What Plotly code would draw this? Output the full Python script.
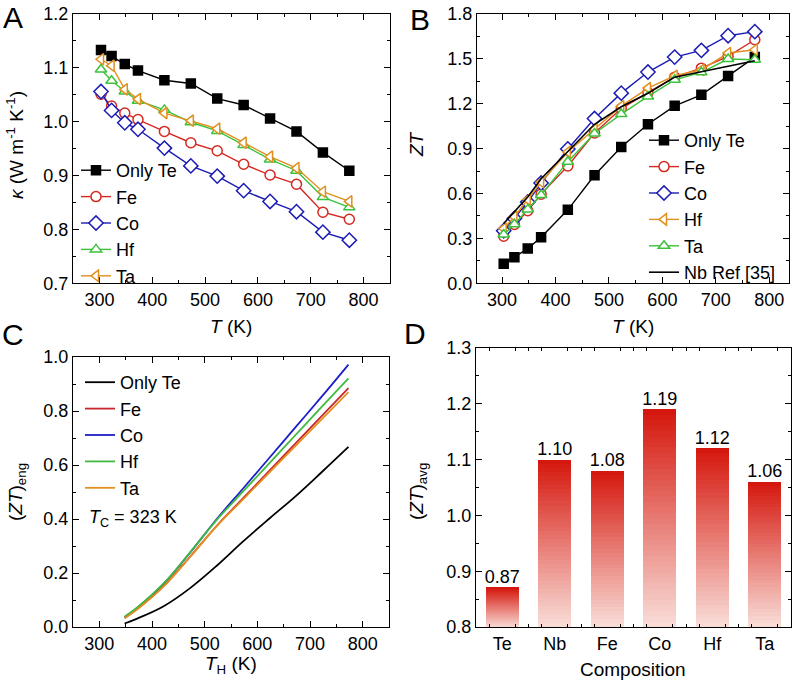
import plotly.graph_objects as go

# ---------------- data ----------------
T_K = [303, 323, 348, 373, 423, 473, 523, 573, 623, 673, 723, 773]

kappa_onlyte = [1.133, 1.122, 1.107, 1.095, 1.077, 1.071, 1.043, 1.031, 1.006, 0.982, 0.943, 0.909]
kappa_fe = [1.051, 1.029, 1.016, 1.004, 0.982, 0.961, 0.946, 0.921, 0.901, 0.884, 0.832, 0.819]
kappa_co = [1.056, 1.021, 0.998, 0.986, 0.951, 0.918, 0.899, 0.872, 0.852, 0.833, 0.795, 0.780]
kappa_hf = [1.097, 1.076, 1.056, 1.039, 1.022, 0.999, 0.983, 0.957, 0.930, 0.909, 0.860, 0.841]
kappa_ta = [1.116, 1.104, 1.060, 1.042, 1.016, 1.002, 0.987, 0.961, 0.935, 0.914, 0.870, 0.852]

zt_onlyte = [0.130, 0.174, 0.232, 0.308, 0.491, 0.722, 0.911, 1.063, 1.186, 1.260, 1.385, 1.512]
zt_fe = [0.315, 0.393, 0.485, 0.596, 0.784, 1.005, 1.168, 1.275, 1.378, 1.438, 1.517, 1.628]
zt_co = [0.351, 0.433, 0.543, 0.670, 0.898, 1.101, 1.271, 1.412, 1.512, 1.557, 1.655, 1.682]
zt_orange = [0.366, 0.445, 0.560, 0.677, 0.878, 1.030, 1.184, 1.305, 1.387, 1.427, 1.539, 1.561]
zt_green = [0.326, 0.395, 0.494, 0.590, 0.813, 1.001, 1.131, 1.249, 1.360, 1.410, 1.499, 1.494]
zt_nb_ref = [0.400, 0.480, 0.577, 0.699, 0.882, 1.063, 1.180, 1.270, 1.378, 1.416, 1.450, 1.488]

TH_K = [348, 373, 423, 473, 523, 573, 623, 673, 723, 773]
zteng_onlyte = [0.013, 0.032, 0.078, 0.145, 0.227, 0.317, 0.402, 0.485, 0.575, 0.667]
zteng_fe = [0.033, 0.068, 0.153, 0.262, 0.375, 0.477, 0.579, 0.681, 0.783, 0.885]
zteng_co = [0.036, 0.072, 0.162, 0.277, 0.400, 0.513, 0.627, 0.741, 0.855, 0.972]
zteng_hf = [0.038, 0.074, 0.163, 0.278, 0.397, 0.502, 0.607, 0.712, 0.817, 0.921]
zteng_ta = [0.032, 0.067, 0.152, 0.261, 0.374, 0.473, 0.573, 0.672, 0.771, 0.870]

compositions = ["Te", "Nb", "Fe", "Co", "Hf", "Ta"]
zt_avg = [0.87, 1.10, 1.08, 1.19, 1.12, 1.06]

# ---------------- styling ----------------
FONT = "Arial, Liberation Sans, sans-serif"
BLACK = "#000000"
RED = "#d42a22"
BLUE = "#1c1cb4"
GREEN = "#3cc23c"
ORANGE = "#e0901e"
C_RED = "#c8282d"
C_BLUE = "#1e1ec8"
C_GREEN = "#40bb40"
C_ORANGE = "#e39020"

W, H = 796, 685


def px_x(a, b):
    return [a / W, b / W]


def px_y(top, bottom):
    return [1 - bottom / H, 1 - top / H]


fig = go.Figure()


def line_marker(x, y, name, color, symbol, xa, ya, legend, filled=False, size=9):
    fig.add_trace(go.Scatter(
        x=x, y=y, name=name, mode="lines+markers", xaxis=xa, yaxis=ya, legend=legend,
        line=dict(color=color, width=1.4),
        marker=dict(symbol=symbol, size=size, color=color if filled else "white",
                    line=dict(color=color, width=1.5)),
    ))


# Panel A
line_marker(T_K, kappa_onlyte, "Only Te", BLACK, "square", "x", "y", "legend", filled=True, size=9)
line_marker(T_K, kappa_fe, "Fe", RED, "circle", "x", "y", "legend", size=10)
line_marker(T_K, kappa_co, "Co", BLUE, "diamond", "x", "y", "legend", size=11)
line_marker(T_K, kappa_hf, "Hf", GREEN, "triangle-up", "x", "y", "legend", size=10)
line_marker(T_K, kappa_ta, "Ta", ORANGE, "triangle-left", "x", "y", "legend", size=10)

# Panel B
line_marker(T_K, zt_onlyte, "Only Te", BLACK, "square", "x2", "y2", "legend2", filled=True, size=9)
line_marker(T_K, zt_fe, "Fe", RED, "circle", "x2", "y2", "legend2", size=10)
line_marker(T_K, zt_co, "Co", BLUE, "diamond", "x2", "y2", "legend2", size=11)
line_marker(T_K, zt_orange, "Hf", ORANGE, "triangle-left", "x2", "y2", "legend2", size=10)
line_marker(T_K, zt_green, "Ta", GREEN, "triangle-up", "x2", "y2", "legend2", size=10)
fig.add_trace(go.Scatter(x=T_K, y=zt_nb_ref, name="Nb Ref [35]", mode="lines",
                         xaxis="x2", yaxis="y2", legend="legend2",
                         line=dict(color=BLACK, width=1.6)))

# Panel C
for ys, nm, col in [(zteng_onlyte, "Only Te", BLACK), (zteng_fe, "Fe", C_RED),
                    (zteng_co, "Co", C_BLUE), (zteng_hf, "Hf", C_GREEN), (zteng_ta, "Ta", C_ORANGE)]:
    fig.add_trace(go.Scatter(x=TH_K, y=ys, name=nm, mode="lines", xaxis="x3", yaxis="y3",
                             legend="legend3", line=dict(color=col, width=1.8, shape="spline")))

# Panel D : gradient bars built from stacked slices
N = 40
top_rgb = (213, 22, 12)
bot_rgb = (249, 222, 217)
xi = list(range(len(compositions)))
for k in range(N):
    t = (k + 0.5) / N
    rgb = tuple(round(b + (tp - b) * t) for b, tp in zip(bot_rgb, top_rgb))
    fig.add_trace(go.Bar(
        x=xi, y=[(v - 0.8) / N for v in zt_avg], base=[0.8 + (v - 0.8) * k / N for v in zt_avg],
        width=0.63, xaxis="x4", yaxis="y4", showlegend=False,
        marker=dict(color="rgb(%d,%d,%d)" % rgb, line=dict(width=0)), hoverinfo="skip",
    ))
fig.add_trace(go.Scatter(x=xi, y=zt_avg, mode="text", text=["%.2f" % v for v in zt_avg],
                         textposition="top center", textfont=dict(size=18, color="black", family=FONT),
                         xaxis="x4", yaxis="y4", showlegend=False))

# ---------------- axes ----------------
def axis(domain, rng, dtick, minor_dtick, fmt=None, **kw):
    d = dict(domain=domain, range=rng, tickmode="linear", dtick=dtick, tick0=0, ticks="inside",
             ticklen=6, tickwidth=1.2, tickcolor="black", showline=True, linecolor="black",
             linewidth=1.3, mirror="ticks", showgrid=False, zeroline=False, automargin=False,
             tickfont=dict(size=18, family=FONT, color="black"),
             minor=dict(ticks="inside", ticklen=3, dtick=minor_dtick))
    if fmt:
        d["tickformat"] = fmt
    d.update(kw)
    return d


A_x = px_x(73, 390)
B_x = px_x(477, 789)
C_x = px_x(73, 389)
D_x = px_x(476, 791)
AB_y = px_y(14, 283.3)
C_y = px_y(357, 627)
D_y = px_y(348, 627)

fig.update_layout(
    xaxis=axis(A_x, [250, 850], 100, 50, anchor="y"),
    yaxis=axis(AB_y, [0.7, 1.2], 0.1, 0.05, ".1f", anchor="x"),
    xaxis2=axis(B_x, [253, 837], 100, 50, anchor="y2"),
    yaxis2=axis(AB_y, [0, 1.8], 0.3, 0.15, ".1f", anchor="x2"),
    xaxis3=axis(C_x, [250, 850], 100, 50, anchor="y3"),
    yaxis3=axis(C_y, [0, 1.0], 0.2, 0.1, ".1f", anchor="x3"),
    xaxis4=axis(D_x, [-0.5, 5.5], 1, 0.25, anchor="y4", ticklen=0,
                labelalias={str(i): c for i, c in enumerate(compositions)}),
    yaxis4=axis(D_y, [0.8, 1.3], 0.1, 0.05, ".1f", anchor="x4"),
)

# ---------------- legends ----------------
leg_common = dict(font=dict(size=18, family=FONT, color="black"), bgcolor="rgba(0,0,0,0)",
                  borderwidth=0, xanchor="left", yanchor="top", tracegroupgap=0, itemwidth=30)
fig.update_layout(
    legend=dict(x=76 / W, y=1 - 152 / H, **leg_common),
    legend2=dict(x=644 / W, y=1 - 122 / H, **leg_common),
    legend3=dict(x=80 / W, y=1 - 364 / H, **leg_common),
)

# ---------------- annotations ----------------
ann = []


def text(xp, yp, s, size=19, angle=0, xanchor="center", yanchor="middle"):
    ann.append(dict(x=xp / W, y=1 - yp / H, xref="paper", yref="paper", text=s, showarrow=False,
                    textangle=angle, xanchor=xanchor, yanchor=yanchor,
                    font=dict(size=size, family=FONT, color="black")))


text(231, 326, "<i>T</i> (K)")
text(633, 326, "<i>T</i> (K)")
text(231, 665, "<i>T</i><sub>H</sub> (K)")
text(633, 669, "Composition")
text(15, 145, "<i>κ</i> (W m<sup>-1</sup> K<sup>-1</sup>)", size=19, angle=-90)
text(416, 144, "<i>ZT</i>", angle=-90)
text(17, 492, "(<i>ZT</i>)<sub>eng</sub>", angle=-90)
text(418, 492, "(<i>ZT</i>)<sub>avg</sub>", angle=-90)
text(87, 518, "<i>T</i><sub>C</sub> = 323 K", size=18, xanchor="left")
text(13, 18, "A", size=30)
text(420, 19, "B", size=30)
text(13, 334, "C", size=30)
text(415, 333, "D", size=30)

fig.update_layout(
    annotations=ann, width=W, height=H, margin=dict(l=0, r=0, t=0, b=0),
    paper_bgcolor="white", plot_bgcolor="white", barmode="overlay", bargap=0,
    font=dict(family=FONT, color="black"),
)

fig.write_html("out.html", config={"displayModeBar": False},
               post_script="document.body.style.margin='0';")
